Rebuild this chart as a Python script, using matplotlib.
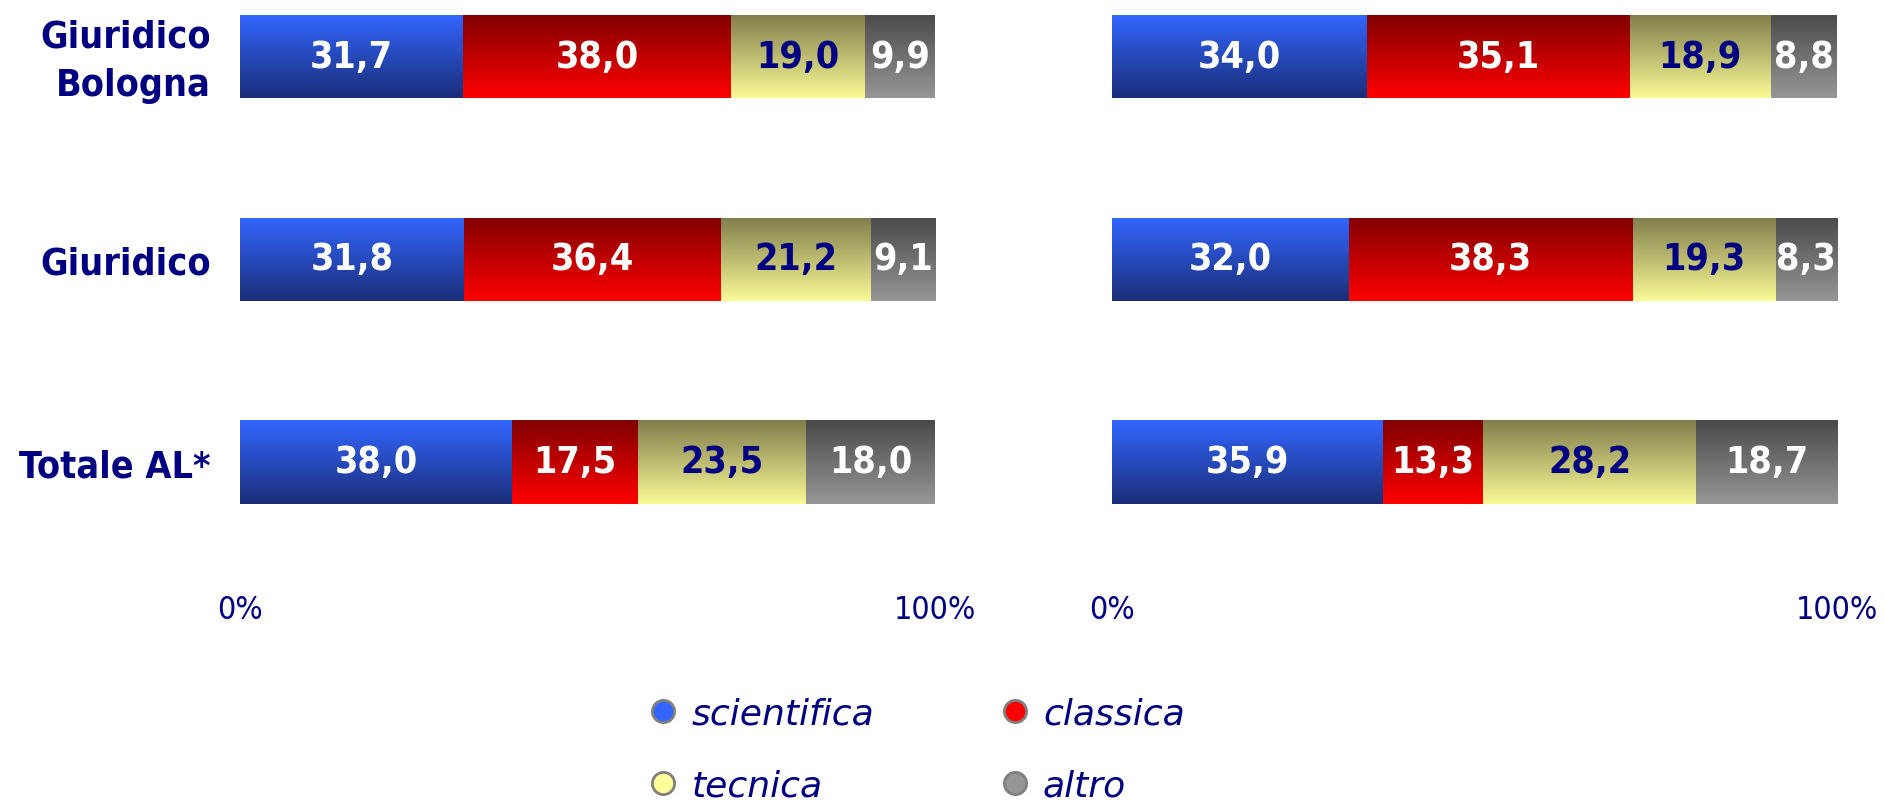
import numpy as np
import matplotlib
matplotlib.use('Agg')
import matplotlib.pyplot as plt
from matplotlib.colors import LinearSegmentedColormap
from matplotlib.lines import Line2D
from matplotlib.transforms import ScaledTranslation

categories = ['Giuridico\nBologna', 'Giuridico', 'Totale AL*']
series = ['scientifica', 'classica', 'tecnica', 'altro']

left_vals = {
    'scientifica': [31.7, 31.8, 38.0],
    'classica': [38.0, 36.4, 17.5],
    'tecnica': [19.0, 21.2, 23.5],
    'altro': [9.9, 9.1, 18.0],
}
right_vals = {
    'scientifica': [34.0, 32.0, 35.9],
    'classica': [35.1, 38.3, 13.3],
    'tecnica': [18.9, 19.3, 28.2],
    'altro': [8.8, 8.3, 18.7],
}

# gradient top -> bottom, legend colour, label colour
grad_cols = {
    'scientifica': ('#3366ff', '#1a2e78'),
    'classica': ('#800000', '#ff0000'),
    'tecnica': ('#807d4c', '#fafa96'),
    'altro': ('#4a4a4a', '#969696'),
}
legend_cols = {'scientifica': '#3366ff', 'classica': '#ff0000',
               'tecnica': '#ffff99', 'altro': '#969696'}
text_cols = {'scientifica': 'white', 'classica': 'white',
             'tecnica': '#000080', 'altro': 'white'}

navy = '#000080'
fam = ['DejaVu Sans']

fig = plt.figure(figsize=(18.85, 8.03), dpi=100)
ax_l = fig.add_axes([240 / 1885, 1 - 580 / 803, 695 / 1885, 580 / 803])
ax_r = fig.add_axes([1112 / 1885, 1 - 580 / 803, 725 / 1885, 580 / 803])

y = np.arange(len(categories))
bar_h = 0.41


def draw_panel(ax, vals):
    tot = np.zeros(len(categories))
    for s in series:
        tot += np.array(vals[s])
    left = np.zeros(len(categories))
    for s in series:
        v = np.array(vals[s])
        w = v / tot * 100
        bars = ax.barh(y, w, left=left, height=bar_h, color=legend_cols[s],
                       edgecolor='none')
        cmap = LinearSegmentedColormap.from_list(s, list(grad_cols[s]))
        grad = np.linspace(0, 1, 256).reshape(-1, 1)
        for p in bars.patches:
            x0, y0 = p.get_x(), p.get_y()
            im = ax.imshow(grad, cmap=cmap, aspect='auto', origin='upper',
                           extent=(x0, x0 + p.get_width(), y0 + p.get_height(), y0),
                           zorder=2)
            im.set_clip_path(p)
        for i in range(len(categories)):
            ax.text(left[i] + w[i] / 2, y[i], f'{v[i]:.1f}'.replace('.', ','),
                    ha='center', va='center', color=text_cols[s],
                    fontsize=27, fontweight='bold', fontstretch='condensed',
                    family=fam, zorder=3)
        left += w
    ax.set_xlim(0, 100)
    ax.set_ylim(2.577, -0.2836)
    ax.set_xticks([0, 100])
    ax.set_xticklabels(['0%', '100%'], color=navy, fontsize=23,
                       fontstretch='condensed', family=fam)
    ax.tick_params(axis='both', length=0)
    ax.tick_params(axis='x', pad=11)
    for sp in ax.spines.values():
        sp.set_visible(False)


draw_panel(ax_l, left_vals)
draw_panel(ax_r, right_vals)

ax_l.set_yticks(y)
ax_l.set_yticklabels(categories, color=navy, fontsize=27, fontweight='bold',
                     fontstretch='condensed', family=fam, linespacing=1.45)
ax_l.tick_params(axis='y', pad=21)
# two-line label sits a little high in the original
lab = ax_l.get_yticklabels()[0]
lab.set_transform(lab.get_transform() + ScaledTranslation(0, 0.06, fig.dpi_scale_trans))
ax_r.set_yticks([])

order = ['scientifica', 'tecnica', 'classica', 'altro']
handles = [Line2D([], [], marker='o', linestyle='none', markersize=16,
                  markerfacecolor=legend_cols[s], markeredgecolor='#808080',
                  markeredgewidth=2) for s in order]
leg = fig.legend(handles, order, loc='upper left', ncol=2,
                 bbox_to_anchor=(645 / 1885, 1 - 698 / 803), frameon=False,
                 borderpad=0, borderaxespad=0, handlelength=1.0,
                 handletextpad=0.28, columnspacing=3.4, labelspacing=1.05,
                 prop={'size': 26, 'style': 'italic', 'family': 'DejaVu Sans'})
for t in leg.get_texts():
    t.set_color(navy)

fig.savefig('out.png', dpi=100)
